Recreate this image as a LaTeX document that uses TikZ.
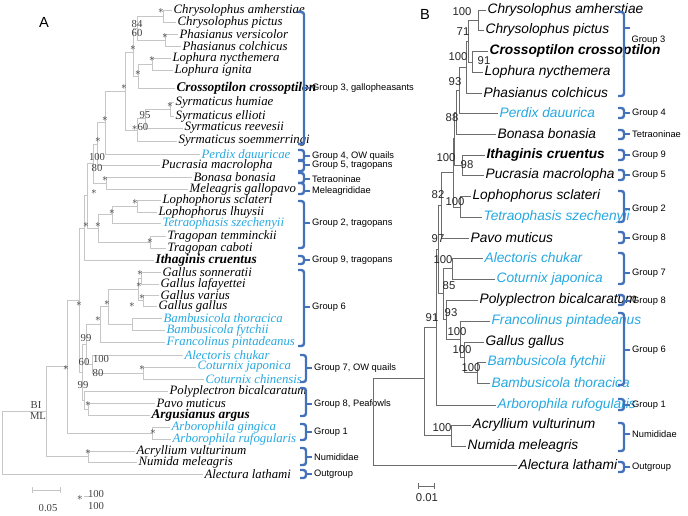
\documentclass[tikz,border=0pt]{standalone}
\usepackage{fontspec}
\setmainfont{Liberation Serif}
\setsansfont{Liberation Sans}
\usetikzlibrary{positioning}
\definecolor{grpblue}{RGB}{68,114,186}
\definecolor{taxcyan}{RGB}{38,168,224}
\tikzset{
  brA/.style={draw=gray!45, line width=0.6pt},
  brB/.style={draw=gray!85!black, line width=0.6pt},
  tipA/.style={anchor=west, inner sep=1pt, font=\fontsize{9.6}{10}\selectfont\itshape},
  tipB/.style={anchor=west, inner sep=1pt, font=\sffamily\fontsize{10.3}{11}\selectfont\itshape},
  cy/.style={text=taxcyan},
  bo/.style={font=\bfseries\itshape},
  boB/.style={font=\sffamily\fontsize{10.3}{11}\selectfont\bfseries\itshape},
  bsA/.style={inner sep=0pt, font=\fontsize{8}{8}\selectfont, text=black!75},
  bsB/.style={inner sep=0pt, font=\sffamily\fontsize{8.5}{9}\selectfont, text=black!85},
  brk/.style={draw=grpblue, line width=1.8pt, rounded corners=2pt},
  grplab/.style={anchor=west, inner sep=1pt, font=\sffamily\fontsize{7}{8}\selectfont}
}
% clade: node x, then child a (x,y) and child b (x,y)
\newcommand{\cladeA}[5]{\draw[brA] (#2,#3) -- (#1,#3) -- (#1,#5) -- (#4,#5);}
\newcommand{\cladeB}[5]{\draw[brB] (#2,#3) -- (#1,#3) -- (#1,#5) -- (#4,#5);}
\newcommand{\grp}[5]{%
  \draw[brk] (#1-6,#2) -- (#1,#2) -- (#1,#3) -- (#1-6,#3);
  \draw[draw=grpblue, line width=1.2pt] (#1,#4) -- (#1+6,#4) node[grplab, text=black] {#5};}
\newcommand{\st}{$\ast$}
\begin{document}
\begin{tikzpicture}[x=0.75pt, y=-0.75pt]
\useasboundingbox (0,0) rectangle (688,515);

% ---------- Panel A ----------
\node[font=\sffamily\fontsize{11}{12}\selectfont] (labA) at (44,22) {A};

% Leaves
\node[tipA] (a1) at (172,10) {Chrysolophus amherstiae};
\node[tipA] (a2) at (176,22) {Chrysolophus pictus};
\node[tipA] (a3) at (178,34) {Phasianus versicolor};
\node[tipA] (a4) at (181,46) {Phasianus colchicus};
\node[tipA] (a5) at (171,58) {Lophura nycthemera};
\node[tipA] (a6) at (173,70) {Lophura ignita};
\node[tipA, bo] (a7) at (175,88) {Crossoptilon crossoptilon};
\node[tipA] (a8) at (174,102) {Syrmaticus humiae};
\node[tipA] (a9) at (174,116) {Syrmaticus ellioti};
\node[tipA] (a10) at (183,128) {Syrmaticus reevesii};
\node[tipA] (a11) at (177,141) {Syrmaticus soemmerringi};
\node[tipA, cy] (a12) at (200,154) {Perdix dauuricae};
\node[tipA] (a13) at (160,165) {Pucrasia macrolopha};
\node[tipA] (a14) at (192,177) {Bonasa bonasia};
\node[tipA] (a15) at (188,189) {Meleagris gallopavo};
\node[tipA] (a16) at (161,200) {Lophophorus sclateri};
\node[tipA] (a17) at (157,212) {Lophophorus lhuysii};
\node[tipA, cy] (a18) at (161,223) {Tetraophasis szechenyii};
\node[tipA] (a19) at (166,236) {Tragopan temminckii};
\node[tipA] (a20) at (166,248) {Tragopan caboti};
\node[tipA, bo] (a21) at (154,260) {Ithaginis cruentus};
\node[tipA] (a22) at (161,272) {Gallus sonneratii};
\node[tipA] (a23) at (159,284) {Gallus lafayettei};
\node[tipA] (a24) at (159,295) {Gallus varius};
\node[tipA] (a25) at (157,306) {Gallus gallus};
\node[tipA, cy] (a26) at (162,318) {Bambusicola thoracica};
\node[tipA, cy] (a27) at (165,330) {Bambusicola fytchii};
\node[tipA, cy] (a28) at (165,342) {Francolinus pintadeanus};
\node[tipA, cy] (a29) at (183,355) {Alectoris chukar};
\node[tipA, cy] (a30) at (196,367) {Coturnix japonica};
\node[tipA, cy] (a31) at (204,379) {Coturnix chinensis};
\node[tipA] (a32) at (168,391) {Polyplectron bicalcaratum};
\node[tipA] (a33) at (155,403) {Pavo muticus};
\node[tipA, bo] (a34) at (150,415) {Argusianus argus};
\node[tipA, cy] (a35) at (170,427) {Arborophila gingica};
\node[tipA, cy] (a36) at (171,439) {Arborophila rufogularis};
\node[tipA] (a37) at (135,451) {Acryllium vulturinum};
\node[tipA] (a38) at (137,462) {Numida meleagris};
\node[tipA] (a39) at (203,474) {Alectura lathami};

% Branches
\cladeA{163}{172}{10}{176}{22}
\cladeA{165}{178}{34}{181}{46}
\cladeA{137}{163}{16}{165}{40}
\cladeA{152}{171}{58}{173}{70}
\cladeA{138}{152}{64}{175}{88}
\cladeA{133}{137}{28}{138}{76}
\cladeA{170}{174}{102}{174}{116}
\cladeA{145}{170}{109}{183}{128}
\cladeA{137}{145}{118}{177}{141}
\cladeA{125}{133}{52}{137}{130}
\cladeA{105}{125}{91}{200}{154}
\cladeA{97}{105}{122}{160}{165}
\cladeA{106}{192}{177}{188}{189}
\cladeA{93}{97}{144}{106}{183}
\cladeA{137}{161}{200}{157}{212}
\cladeA{112}{137}{206}{161}{223}
\cladeA{150}{166}{236}{166}{248}
\cladeA{98}{112}{214}{150}{242}
\cladeA{87}{93}{163}{98}{228}
\cladeA{84}{87}{195}{154}{260}
\cladeA{141}{161}{272}{159}{284}
\cladeA{143}{159}{295}{157}{306}
\cladeA{138}{141}{278}{143}{300}
\cladeA{132}{162}{318}{165}{330}
\cladeA{108}{138}{289}{132}{324}
\cladeA{100}{108}{306}{165}{342}
\cladeA{143}{196}{367}{204}{379}
\cladeA{92}{183}{355}{143}{373}
\cladeA{86}{100}{324}{92}{364}
\cladeA{88}{155}{403}{150}{415}
\cladeA{84}{168}{391}{88}{409}
\cladeA{82}{86}{344}{84}{400}
\cladeA{79}{84}{228}{82}{372}
\cladeA{152}{170}{427}{171}{439}
\cladeA{67}{79}{300}{152}{433}
\cladeA{88}{135}{451}{137}{462}
\cladeA{46}{67}{366}{88}{456}
\cladeA{2}{46}{411}{203}{474}

% Support values
\foreach \x/\y in {161/10,165/35,133/47,152/58,138/72,124/86,170/104,105/118,98/139,
  105/178,94/191,135/201,112/211,86/224,98/224,150/240,140/272,139/284,142/296,107/302,
  132/304,98/318,79/303,142/367,88/403,153/431,66/367,88/451}
  \node[bsA] at (\x,\y+1) {\st};
\node[bsA] at (137,24) {84};
\node[bsA] at (137,33) {60};
\node[bsA] at (145,115) {95};
\node[bsA] at (140,127) {\st60};
\node[bsA] at (97,157) {100};
\node[bsA] at (97,168) {80};
\node[bsA] at (86,338) {99};
\node[bsA] at (84,362) {60};
\node[bsA] at (101,359) {100};
\node[bsA] at (98,373) {80};
\node[bsA] at (83,385) {99};
\node[bsA] at (36,405) {BI};
\node[bsA] at (38,416) {ML};

% Scale bar and key
\draw[brA] (32,490) -- (60,490);
\draw[brA] (32,487) -- (32,493);
\draw[brA] (60,487) -- (60,493);
\node[bsA] at (48,508) {0.05};
\node[bsA] at (80,498) {\st};
\draw[brA] (84,496) -- (90,496);
\node[bsA] at (96,494) {100};
\node[bsA] at (96,506) {100};

% Groups A
\grp{304}{12}{144}{88}{Group 3, gallopheasants}
\grp{304}{150}{161}{156}{Group 4, OW quails}
\grp{304}{160}{171}{165}{Group 5, tragopans}
\grp{304}{173}{183}{179}{Tetraoninae}
\grp{304}{183}{194}{191}{Meleagrididae}
\grp{304}{201}{248}{223}{Group 2, tragopans}
\grp{304}{256}{264}{260}{Group 9, tragopans}
\grp{304}{270}{346}{307}{Group 6}
\grp{306}{355}{382}{368}{Group 7, OW quails}
\grp{306}{388}{416}{404}{Group 8, Peafowls}
\grp{306}{424}{440}{432}{Group 1}
\grp{306}{448}{465}{457}{Numididae}
\grp{306}{470}{478}{474}{Outgroup}

% ---------- Panel B ----------
\node[font=\sffamily\fontsize{11}{12}\selectfont] (labB) at (425,14) {B};

\node[tipB] (b1) at (486,10) {Chrysolophus amherstiae};
\node[tipB] (b2) at (484,30) {Chrysolophus pictus};
\node[tipB, boB] (b3) at (488,51) {Crossoptilon crossoptilon};
\node[tipB] (b4) at (483,72) {Lophura nycthemera};
\node[tipB] (b5) at (482,93) {Phasianus colchicus};
\node[tipB, cy] (b6) at (498,113) {Perdix dauurica};
\node[tipB] (b7) at (496,134) {Bonasa bonasia};
\node[tipB, boB] (b8) at (485,155) {Ithaginis cruentus};
\node[tipB] (b9) at (484,175) {Pucrasia macrolopha};
\node[tipB] (b10) at (471,196) {Lophophorus sclateri};
\node[tipB, cy] (b11) at (482,217) {Tetraophasis szechenyii};
\node[tipB] (b12) at (469,238) {Pavo muticus};
\node[tipB, cy] (b13) at (483,258) {Alectoris chukar};
\node[tipB, cy] (b14) at (495,279) {Coturnix japonica};
\node[tipB] (b15) at (478,300) {Polyplectron bicalcaratum};
\node[tipB, cy] (b16) at (490,321) {Francolinus pintadeanus};
\node[tipB] (b17) at (484,342) {Gallus gallus};
\node[tipB, cy] (b18) at (486,362) {Bambusicola fytchii};
\node[tipB, cy] (b19) at (490,383) {Bambusicola thoracica};
\node[tipB, cy] (b20) at (496,405) {Arborophila rufogularis};
\node[tipB] (b21) at (471,425) {Acryllium vulturinum};
\node[tipB] (b22) at (466,446) {Numida meleagris};
\node[tipB] (b23) at (517,465) {Alectura lathami};

\cladeB{478}{486}{10}{484}{30}
\cladeB{472}{488}{51}{483}{72}
\cladeB{468}{478}{20}{472}{62}
\cladeB{466}{468}{41}{482}{93}
\cladeB{459}{466}{67}{498}{113}
\cladeB{456}{459}{90}{496}{134}
\cladeB{462}{485}{155}{484}{175}
\cladeB{454}{456}{112}{462}{165}
\cladeB{460}{471}{196}{482}{217}
\cladeB{453}{454}{138}{460}{207}
\cladeB{441}{453}{172}{469}{238}
\cladeB{452}{483}{258}{495}{279}
\cladeB{477}{486}{362}{490}{383}
\cladeB{464}{484}{342}{477}{372}
\cladeB{460}{490}{321}{464}{357}
\cladeB{446}{478}{300}{460}{339}
\cladeB{443}{452}{268}{446}{319}
\cladeB{438}{441}{205}{443}{293}
\cladeB{436}{438}{249}{496}{405}
\cladeB{451}{471}{425}{466}{446}
\cladeB{424}{436}{327}{451}{435}
\cladeB{373}{424}{378}{517}{465}

\node[bsB] at (462,12) {100};
\node[bsB] at (463,32) {71};
\node[bsB] at (458,57) {100};
\node[bsB] at (484,61) {91};
\node[bsB] at (455,82) {93};
\node[bsB] at (452,118) {88};
\node[bsB] at (446,158) {100};
\node[bsB] at (467,165) {98};
\node[bsB] at (438,195) {82};
\node[bsB] at (455,202) {100};
\node[bsB] at (438,239) {97};
\node[bsB] at (443,260) {100};
\node[bsB] at (449,286) {85};
\node[bsB] at (432,318) {91};
\node[bsB] at (451,313) {93};
\node[bsB] at (457,332) {100};
\node[bsB] at (462,350) {100};
\node[bsB] at (471,368) {100};
\node[bsB] at (442,428) {100};

\draw[brB] (418,486) -- (434,486);
\draw[brB] (418,483) -- (418,489);
\draw[brB] (434,483) -- (434,489);
\node[bsB] at (427,498) {0.01};

% Groups B
\grp{624}{12}{96}{28}{}
\node[grplab] at (630,40) {Group 3};
\grp{624}{108}{118}{113}{Group 4}
\grp{624}{130}{139}{134}{Tetraoninae}
\grp{624}{150}{160}{155}{Group 9}
\grp{624}{170}{180}{175}{Group 5}
\grp{624}{191}{222}{209}{Group 2}
\grp{624}{232}{243}{238}{Group 8}
\grp{624}{253}{284}{273}{Group 7}
\grp{624}{295}{305}{301}{Group 8}
\grp{624}{313}{385}{350}{Group 6}
\grp{624}{399}{410}{405}{Group 1}
\grp{624}{423}{451}{434}{Numididae}
\grp{624}{462}{472}{467}{Outgroup}
\end{tikzpicture}
\end{document}
